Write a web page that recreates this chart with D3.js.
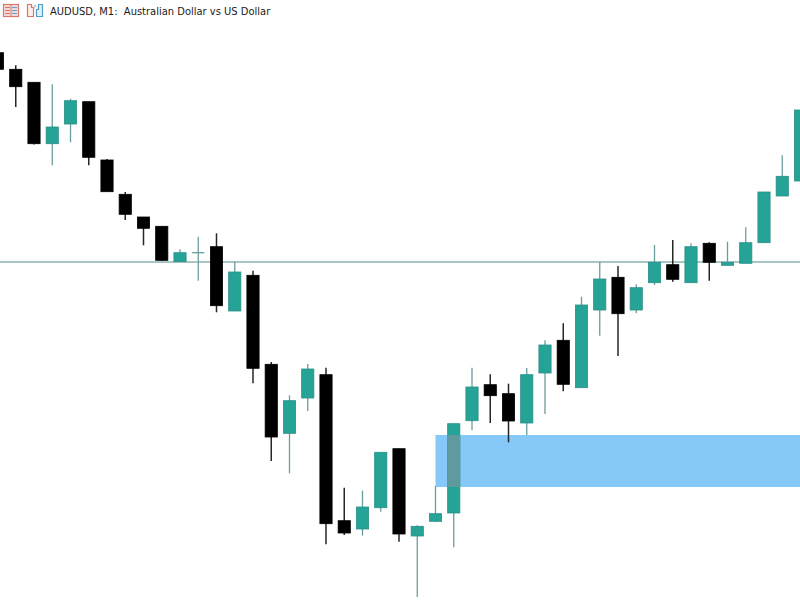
<!DOCTYPE html>
<html>
<head>
<meta charset="utf-8">
<script src="https://cdn.jsdelivr.net/npm/d3@7"></script>
<style>
    html, body { margin: 0; padding: 0; background: #fff; }
    svg { display: block; }
</style>
</head>
<body>
<div id="chart"></div>
<script>
// values, in chart units (no price axis in the reference)
const opens = [547.3, 530.7, 517.7, 456.3, 476, 498.3, 440, 405.7, 383, 373.7, 338.3, 347.3, 353.3, 289, 324.7, 235.7, 166.7, 202, 225.3, 79.3, 71, 92.3, 151.3, 64, 78.7, 87, 179.3, 215.3, 206.3, 177, 227, 259.7, 212.3, 290, 322.7, 290, 317.3, 335.3, 317.3, 356.7, 334.7, 336.7, 357.3, 404, 419];
const highs = [547.3, 534.7, 517.7, 515.7, 501.3, 498.3, 441, 408, 383, 373.7, 350.7, 363.3, 366.7, 338.3, 329.3, 238, 204.7, 236, 232.3, 112.3, 109.3, 147.7, 151.3, 74.7, 114, 176.3, 232.3, 225.7, 216.3, 232, 259.7, 276.7, 303.3, 338, 334, 315.7, 355, 360, 356.7, 357.7, 358.3, 372.7, 408, 444.7, 490];
const lows = [530.7, 493, 455.5, 434.7, 457.7, 434.7, 408.3, 380, 354.7, 339, 338.3, 319.3, 287.7, 289, 216.7, 139, 126.7, 189, 55.7, 65, 64.3, 88.3, 58.3, 3, 78, 52.7, 170, 177, 157.7, 165, 186, 208.7, 212.3, 264.3, 244, 286.7, 315, 318.3, 317.3, 319.3, 334.7, 336.7, 357.3, 404, 419];
const closes = [530.7, 513.3, 456.3, 473, 499.3, 442.7, 408.3, 385.7, 371.7, 339.7, 347.3, 347.3, 294.3, 328, 231.7, 163, 199.3, 231, 76.3, 67, 93, 147.7, 66, 73.7, 86.3, 176.3, 213, 204.3, 179, 225.3, 255, 215.7, 295, 321, 286.3, 312.3, 337.7, 320.7, 353.3, 337.7, 337.7, 357.3, 408, 423.7, 490];

const levelValue = 338;
const zoneLow = 113;
const zoneHigh = 165;
const zoneStart = 24;

const titleText = 'AUDUSD, M1:  Australian Dollar vs US Dollar';

const width = 800;
const height = 600;
const bodyWidth = 12.2;

const upColor = '#24a396';
const upEdge = '#2c8f88';
const upWick = '#6a9c9c';
const downColor = '#000000';
const downWick = '#262626';
const zoneColor = '#86c8f8';
const overlapColor = '#5f9a9f';

const candles = d3.range(opens.length).map(i => ({
    i: i,
    open: opens[i],
    high: highs[i],
    low: lows[i],
    close: closes[i],
    up: closes[i] >= opens[i]
}));

const svg = d3.select('#chart')
    .append('svg')
    .attr('width', width)
    .attr('height', height);

const xScale = d3.scaleLinear()
    .domain([0, opens.length - 1])
    .range([-2.5, 800.5]);

const yScale = d3.scaleLinear()
    .domain([0, 600])
    .range([600, 0]);

// support level runs behind the candles
svg.append('line')
    .attr('x1', 0)
    .attr('x2', width)
    .attr('y1', yScale(levelValue))
    .attr('y2', yScale(levelValue))
    .attr('stroke', '#8db3b1')
    .attr('stroke-width', 1.3);

// demand zone
svg.append('rect')
    .attr('x', xScale(zoneStart))
    .attr('y', yScale(zoneHigh))
    .attr('width', width - xScale(zoneStart))
    .attr('height', yScale(zoneLow) - yScale(zoneHigh))
    .attr('fill', zoneColor);

const groups = svg.selectAll('g.candle')
    .data(candles)
    .enter()
    .append('g')
    .attr('class', 'candle');

groups.append('line')
    .attr('x1', d => xScale(d.i))
    .attr('x2', d => xScale(d.i))
    .attr('y1', d => yScale(d.high))
    .attr('y2', d => yScale(d.low))
    .attr('stroke', d => d.up ? upWick : downWick)
    .attr('stroke-width', d => d.up ? 1.3 : 1.5);

groups.filter(d => d.open !== d.close)
    .append('rect')
    .attr('x', d => xScale(d.i) - bodyWidth / 2)
    .attr('y', d => yScale(Math.max(d.open, d.close)))
    .attr('width', bodyWidth)
    .attr('height', d => Math.abs(d.open - d.close))
    .attr('fill', d => d.up ? upColor : downColor)
    .attr('stroke', d => d.up ? upEdge : downColor)
    .attr('stroke-width', 0.8);

// open equals close: the body is only a dash
groups.filter(d => d.open === d.close)
    .append('line')
    .attr('x1', d => xScale(d.i) - bodyWidth / 2)
    .attr('x2', d => xScale(d.i) + bodyWidth / 2)
    .attr('y1', d => yScale(d.open))
    .attr('y2', d => yScale(d.open))
    .attr('stroke', upWick)
    .attr('stroke-width', 1.3);

// the zone shows through on top of the candle it crosses
const crossing = candles.filter(d => d.i > zoneStart
    && Math.max(d.open, d.close) >= zoneHigh && Math.min(d.open, d.close) <= zoneLow);

svg.selectAll('rect.overlap')
    .data(crossing)
    .enter()
    .append('rect')
    .attr('class', 'overlap')
    .attr('x', d => xScale(d.i) - bodyWidth / 2 - 0.4)
    .attr('y', yScale(zoneHigh))
    .attr('width', bodyWidth + 0.8)
    .attr('height', yScale(zoneLow) - yScale(zoneHigh))
    .attr('fill', overlapColor);

// toolbar icons next to the title
const icons = svg.append('g');

icons.append('rect')
    .attr('x', 3.5).attr('y', 4.5).attr('width', 15).attr('height', 12)
    .attr('fill', '#f7e3df').attr('stroke', '#d9766a').attr('stroke-width', 1.2);
icons.append('line')
    .attr('x1', 11).attr('x2', 11).attr('y1', 5).attr('y2', 16)
    .attr('stroke', '#d9766a').attr('stroke-width', 1);
[7.5, 10.5, 13.5].forEach(y => {
    icons.append('line')
        .attr('x1', 5).attr('x2', 10).attr('y1', y).attr('y2', y)
        .attr('stroke', '#d9766a').attr('stroke-width', 1.2);
    icons.append('line')
        .attr('x1', 12).attr('x2', 17).attr('y1', y).attr('y2', y)
        .attr('stroke', '#6f9fd0').attr('stroke-width', 1.2);
});

icons.append('path')
    .attr('d', 'M27.5 4.5h4v3h2v9h-6z')
    .attr('fill', '#fbeeea').attr('stroke', '#d9766a').attr('stroke-width', 1.2);
icons.append('path')
    .attr('d', 'M36.5 9.5h2v-5h4v12h-6z')
    .attr('fill', '#dff0f8').attr('stroke', '#4f9fc4').attr('stroke-width', 1.2);
icons.append('circle')
    .attr('cx', 35).attr('cy', 6).attr('r', 1.5)
    .attr('fill', '#c9c9c9');

svg.append('text')
    .attr('x', 50)
    .attr('y', 14.5)
    .attr('font-family', '"DejaVu Sans", sans-serif')
    .attr('font-size', 9.95)
    .attr('fill', '#1a1a1a')
    .style('white-space', 'pre')
    .text(titleText);
</script>
</body>
</html>
